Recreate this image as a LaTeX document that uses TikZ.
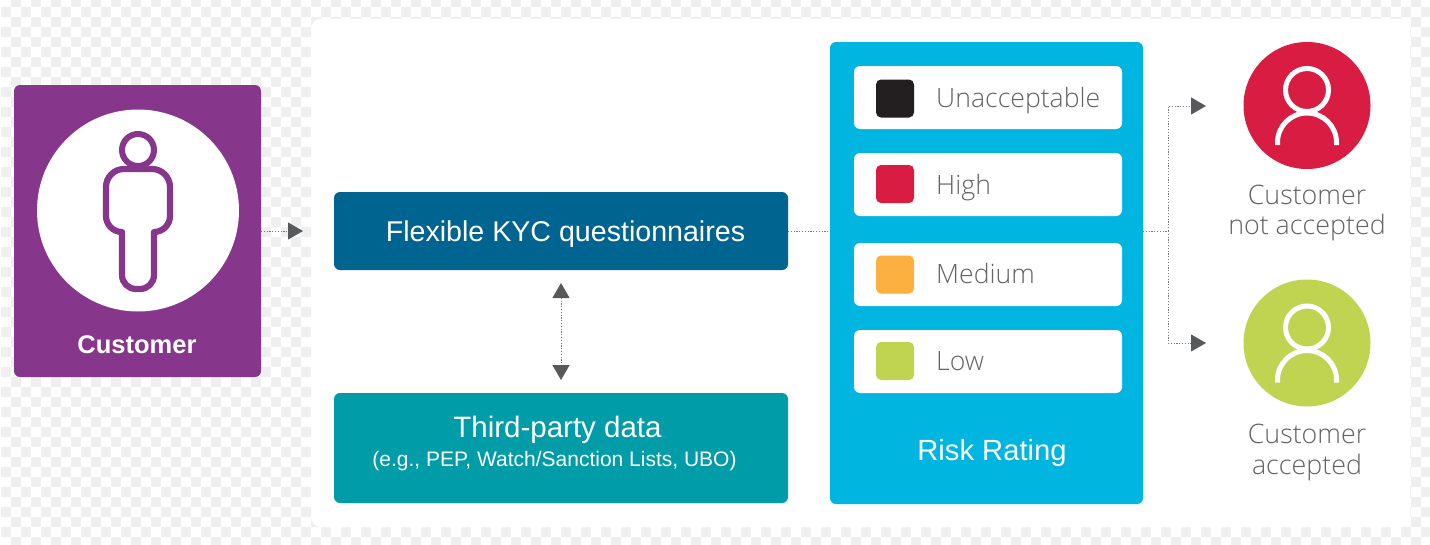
\documentclass[tikz,border=0pt]{standalone}
\usepackage{fontspec}
\usetikzlibrary{arrows.meta}
\setmainfont{Liberation Sans}
\newfontfamily\lightf{Open Sans Light}
\definecolor{cpurple}{HTML}{86378B}
\definecolor{cblue}{HTML}{006491}
\definecolor{cteal}{HTML}{009DA8}
\definecolor{csky}{HTML}{00B5E0}
\definecolor{cred}{HTML}{D91C41}
\definecolor{cgreen}{HTML}{C0D452}
\definecolor{corange}{HTML}{FBB040}
\definecolor{cblack}{HTML}{231F20}
\definecolor{cgrey}{HTML}{636466}
\definecolor{ctile}{HTML}{EFEFEF}
\definecolor{carrow}{HTML}{58595B}
\definecolor{cdots}{HTML}{77787B}
\tikzset{
  x=1pt,y=-1pt,
  box/.style={rounded corners=6pt,minimum width=#1,inner sep=0pt,outer sep=0pt,draw=none},
  conn/.style={draw=cdots,line width=1pt,dash pattern=on 1.2pt off 1.6pt},
  tip/.style={-{Triangle[length=15pt,width=17pt,color=carrow,fill=carrow]}},
  tips/.style={{Triangle[length=15pt,width=17pt,color=carrow,fill=carrow]}-{Triangle[length=15pt,width=17pt,color=carrow,fill=carrow]}},
  whitetxt/.style={text=white,inner sep=0pt,anchor=base},
  greytxt/.style={text=cgrey,inner sep=0pt,anchor=base west,font=\lightf\fontsize{26.6}{30}\selectfont},
  captxt/.style={text=cgrey,inner sep=0pt,anchor=base,font=\lightf\fontsize{26.8}{30}\selectfont},
}
\begin{document}
\begin{tikzpicture}
\useasboundingbox (0,0) rectangle (1430,544);
\fill[white] (0,0) rectangle (1430,544);
% checkerboard
\foreach \i in {0,...,142}{\foreach \j in {0,...,54}{
  \pgfmathtruncatemacro{\p}{mod(\i+\j,2)}
  \ifnum\p=1
    \fill[ctile] ({1+10*\i},{max(-3+10*\j,0)}) rectangle ({11+10*\i},{7+10*\j});
  \fi
}}
% panel
\fill[white,rounded corners=10pt] (311,19) rectangle (1410,527);
% customer
\node[box=247pt,fill=cpurple,minimum height=292pt] (cust) at (137.5,231) {};
\node[circle,fill=white,minimum size=202pt,inner sep=0pt] (custc) at (138,210.5) {};
\draw[cpurple,line width=6.2pt,line join=round]
  (124,169) -- (152,169) arc[start angle=90,end angle=0,x radius=18,y radius=-18]
  -- (170,216) arc[start angle=0,end angle=-90,x radius=16,y radius=-16]
  -- (154,275) arc[start angle=0,end angle=-90,x radius=14,y radius=-14]
  -- (136,289) arc[start angle=-90,end angle=-180,x radius=14,y radius=-14]
  -- (122,232) arc[start angle=-90,end angle=-180,x radius=16,y radius=-16]
  -- (106,187) arc[start angle=180,end angle=90,x radius=18,y radius=-18] -- cycle;
\node[circle,draw=cpurple,fill=white,line width=6pt,minimum size=32pt,inner sep=0pt] (head) at (138,150) {};
\node[text=white,inner sep=0pt,anchor=base,font=\bfseries\fontsize{25.5}{30}\selectfont] (custl) at (137,353) {Customer};
% middle
\node[box=454pt,fill=cblue,minimum height=78pt] (kyc) at (561,231) {};
\node[whitetxt,font=\fontsize{28.6}{32}\selectfont] (kyct) at (565.5,241) {Flexible KYC questionnaires};
\node[box=454pt,fill=cteal,minimum height=110pt] (tp) at (561,448) {};
\node[whitetxt,font=\fontsize{29.5}{32}\selectfont] (tpa) at (557.5,437) {Third-party data};
\node[whitetxt,font=\fontsize{21}{24}\selectfont] (tpb) at (554.5,466) {(e.g., PEP, Watch/Sanction Lists, UBO)};
% risk
\node[box=313pt,fill=csky,minimum height=462pt] (risk) at (986.5,273) {};
\foreach \n/\c/\ya/\sy/\b/\t in {ru/cblack/97.5/98.5/107/Unacceptable,rh/cred/184.5/184/194/High,rm/corange/274.5/274.5/283.5/Medium,rl/cgreen/361.5/361/370/Low}{
  \node[box=268pt,fill=white,minimum height=63pt] (\n) at (988,\ya) {};
  \node[rounded corners=5pt,fill=\c,minimum size=38pt,inner sep=0pt] (\n s) at (895,\sy) {};
  \node[greytxt] (\n t) at (936,\b) {\t};
}
\node[whitetxt,font=\fontsize{29.2}{32}\selectfont] (riskt) at (992,460) {Risk Rating};
% outcomes
\foreach \n/\c/\y in {no/cred/105.5,yes/cgreen/343}{
  \node[circle,fill=\c,minimum size=127pt,inner sep=0pt] (\n) at (1307,\y) {};
  \node[circle,draw=white,line width=5pt,minimum size=43pt,inner sep=0pt] (\n h) at (1307,\y-15.5) {};
  \draw[white,line width=5pt] (1277.5,\y+39.5) -- (1277.5,\y+37) arc[start angle=180,end angle=0,x radius=29.5,y radius=-29.5] -- (1336.5,\y+39.5);
}
\node[captxt] (noa) at (1307,204.5) {Customer};
\node[captxt] (nob) at (1307,234) {not accepted};
\node[captxt] (yesa) at (1307,443.5) {Customer};
\node[captxt] (yesb) at (1307,474.5) {accepted};
% connectors
\draw[conn,tip,shorten >=31pt] (cust.east) -- (kyc.west);
\draw[conn] (kyc.east) -- (risk.west |- kyc.east);
\draw[conn,tips,shorten <=13pt,shorten >=13pt] (kyc.south) -- (tp.north);
\coordinate (bus) at (1168,231);
\coordinate (noe) at (1206,106);
\coordinate (yese) at (1206,343);
\draw[conn] (risk.east |- bus) -- (bus);
\draw[conn,tip] (bus) -- (bus |- noe) -- (noe);
\draw[conn,tip] (bus) -- (bus |- yese) -- (yese);
\end{tikzpicture}
\end{document}
